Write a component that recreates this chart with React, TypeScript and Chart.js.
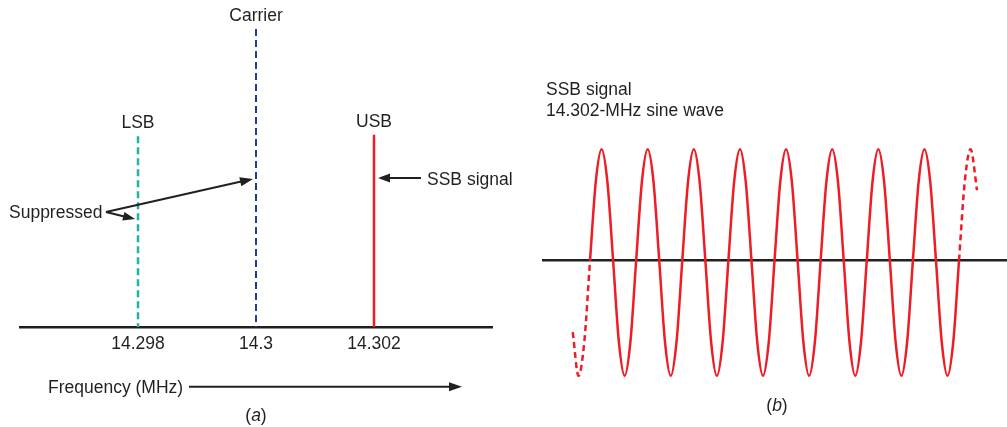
import React, { useEffect, useRef } from "react";
import { Chart, registerables } from "chart.js";

Chart.register(...registerables);

const FONT = '"Liberation Sans", Arial, Helvetica, sans-serif';
const INK = "#231f20";
const FS = 17.5;

// ---------- Panel (a): spectrum ----------
const freqTicks = [14.298, 14.3, 14.302];
const freqTickLabels = ["14.298", "14.3", "14.302"];
const freqMin = 14.296;
const freqMax = 14.304;
const componentNames = ["LSB", "Carrier", "USB"];
const componentFreqs = [14.298, 14.3, 14.302];
const componentHeights = [0.64, 1.0, 0.645];
const componentSuppressed = [true, true, false];
const componentColors = ["#1db5a3", "#1f3b98", "#ee1c25"];
const componentWidths = [2.5, 2, 2.5];

// ---------- Panel (b): SSB waveform (time in cycles of the 14.302-MHz wave) ----------
const waveCycles = [
  -0.375, -0.25, -0.125,
  0, 0.125, 0.25, 0.375, 0.5, 0.625, 0.75, 0.875,
  1, 1.125, 1.25, 1.375, 1.5, 1.625, 1.75, 1.875,
  2, 2.125, 2.25, 2.375, 2.5, 2.625, 2.75, 2.875,
  3, 3.125, 3.25, 3.375, 3.5, 3.625, 3.75, 3.875,
  4, 4.125, 4.25, 4.375, 4.5, 4.625, 4.75, 4.875,
  5, 5.125, 5.25, 5.375, 5.5, 5.625, 5.75, 5.875,
  6, 6.125, 6.25, 6.375, 6.5, 6.625, 6.75, 6.875,
  7, 7.125, 7.25, 7.375, 7.5, 7.625, 7.75, 7.875,
  8, 8.125, 8.25, 8.39,
];
const waveAmp = [
  -0.646, -1.04, -0.735,
  0, 0.71, 1, 0.71, 0, -0.735, -1.04, -0.735,
  0, 0.71, 1, 0.71, 0, -0.735, -1.04, -0.735,
  0, 0.71, 1, 0.71, 0, -0.735, -1.04, -0.735,
  0, 0.71, 1, 0.71, 0, -0.735, -1.04, -0.735,
  0, 0.71, 1, 0.71, 0, -0.735, -1.04, -0.735,
  0, 0.71, 1, 0.71, 0, -0.735, -1.04, -0.735,
  0, 0.71, 1, 0.71, 0, -0.735, -1.04, -0.735,
  0, 0.71, 1, 0.71, 0, -0.735, -1.04, -0.735,
  0, 0.71, 1, 0.63,
];
const solidSpan = [0, 8];

function font(style = "") {
  return `${style ? style + " " : ""}${FS}px ${FONT}`;
}

function arrow(
  ctx: CanvasRenderingContext2D,
  x1: number,
  y1: number,
  x2: number,
  y2: number,
  len = 12,
  half = 4.5
) {
  const a = Math.atan2(y2 - y1, x2 - x1);
  const bx = x2 - len * Math.cos(a);
  const by = y2 - len * Math.sin(a);
  ctx.beginPath();
  ctx.moveTo(x1, y1);
  ctx.lineTo(bx + 2 * Math.cos(a), by + 2 * Math.sin(a));
  ctx.stroke();
  ctx.beginPath();
  ctx.moveTo(x2, y2);
  ctx.lineTo(bx - half * Math.sin(a), by + half * Math.cos(a));
  ctx.lineTo(bx + half * Math.sin(a), by - half * Math.cos(a));
  ctx.closePath();
  ctx.fill();
}

function caption(ctx: CanvasRenderingContext2D, letter: string, cx: number, baseline: number) {
  ctx.font = font();
  const wl = ctx.measureText("(").width;
  const wr = ctx.measureText(")").width;
  ctx.font = font("italic");
  const wm = ctx.measureText(letter).width;
  let x = cx - (wl + wm + wr) / 2;
  ctx.textAlign = "left";
  ctx.font = font();
  ctx.fillText("(", x, baseline);
  x += wl;
  ctx.font = font("italic");
  ctx.fillText(letter, x, baseline);
  x += wm;
  ctx.font = font();
  ctx.fillText(")", x, baseline);
}

const spectrumNotes = {
  id: "spectrumNotes",
  afterDatasetsDraw(chart: any) {
    const ctx: CanvasRenderingContext2D = chart.ctx;
    const xs = chart.scales.x;
    const ys = chart.scales.y;
    ctx.save();
    ctx.fillStyle = INK;
    ctx.strokeStyle = INK;
    ctx.lineWidth = 2;
    ctx.font = font();
    ctx.textBaseline = "alphabetic";
    ctx.textAlign = "center";
    componentNames.forEach((name, i) => {
      const px = xs.getPixelForValue(componentFreqs[i]);
      const top = ys.getPixelForValue(componentHeights[i]);
      ctx.fillText(name, px, top - 8);
    });
    const lsbX = xs.getPixelForValue(componentFreqs[0]);
    const carX = xs.getPixelForValue(componentFreqs[1]);
    const usbX = xs.getPixelForValue(componentFreqs[2]);
    // SSB signal arrow
    const sy = ys.getPixelForValue(0.5);
    arrow(ctx, usbX + 47, sy, usbX + 4, sy, 12, 4.5);
    ctx.textAlign = "left";
    ctx.fillText("SSB signal", usbX + 53, sy + 6.5);
    // Suppressed
    const oy = ys.getPixelForValue(0.386);
    ctx.fillText("Suppressed", 9, oy + 6.3);
    arrow(ctx, 106, oy, carX - 3, ys.getPixelForValue(0.497), 13, 4.5);
    arrow(ctx, 106, oy, lsbX - 3, ys.getPixelForValue(0.362), 12, 4.5);
    // Frequency axis arrow
    ctx.fillText("Frequency (MHz)", 48, 393.3);
    arrow(ctx, 189, 386.7, 462, 386.7, 13, 4.5);
    caption(ctx, "a", carX, 421);
    ctx.restore();
  },
};

const waveNotes = {
  id: "waveNotes",
  afterDatasetsDraw(chart: any) {
    const ctx: CanvasRenderingContext2D = chart.ctx;
    ctx.save();
    ctx.fillStyle = INK;
    ctx.font = font();
    ctx.textBaseline = "alphabetic";
    ctx.textAlign = "left";
    ctx.fillText("SSB signal", 16, 94.5);
    ctx.fillText("14.302-MHz sine wave", 16, 116);
    caption(ctx, "b", 247, 411);
    ctx.restore();
  },
};

function configA(): any {
  return {
    type: "line",
    data: {
      datasets: componentNames.map((name, i) => ({
        label: name,
        data: [
          { x: componentFreqs[i], y: componentHeights[i] },
          { x: componentFreqs[i], y: 0 },
        ],
        borderColor: componentColors[i],
        borderWidth: componentWidths[i],
        borderDash: componentSuppressed[i] ? [7, 4] : [],
        pointRadius: 0,
        clip: false,
        fill: false,
      })),
    },
    options: {
      animation: false,
      responsive: false,
      devicePixelRatio: 1,
      layout: { padding: { left: 20, right: 38, top: 29, bottom: 0 } },
      plugins: { legend: { display: false }, tooltip: { enabled: false } },
      scales: {
        x: {
          type: "linear",
          min: freqMin,
          max: freqMax,
          afterBuildTicks: (s: any) => {
            s.ticks = freqTicks.map((v) => ({ value: v }));
          },
          afterFit: (s: any) => {
            s.height = 100;
          },
          ticks: {
            callback: (_v: any, i: number) => freqTickLabels[i],
            font: { family: FONT, size: FS },
            color: INK,
            padding: 7,
            maxRotation: 0,
            autoSkip: false,
          },
          grid: { display: false, drawTicks: false },
          border: { display: true, color: INK, width: 2.5 },
        },
        y: { display: false, min: 0, max: 1 },
      },
    },
    plugins: [spectrumNotes],
  };
}

function configB(): any {
  return {
    type: "line",
    data: {
      datasets: [
        {
          label: "SSB signal",
          data: waveCycles.map((c, i) => ({ x: c, y: waveAmp[i] })),
          borderColor: "#ee1c25",
          borderWidth: 2.5,
          pointRadius: 0,
          cubicInterpolationMode: "monotone",
          clip: false,
          fill: false,
          segment: {
            borderDash: (ctx: any) =>
              ctx.p0.parsed.x < solidSpan[0] || ctx.p1.parsed.x > solidSpan[1] ? [6, 4] : [],
          },
        },
      ],
    },
    options: {
      animation: false,
      responsive: false,
      devicePixelRatio: 1,
      layout: { padding: { left: 13, right: 0, top: 38, bottom: 0 } },
      plugins: { legend: { display: false }, tooltip: { enabled: false } },
      scales: {
        x: {
          type: "linear",
          min: -1.02,
          max: 9.04,
          position: { y: 0 },
          ticks: { display: false },
          grid: { display: false, drawTicks: false },
          border: { display: true, color: INK, width: 2.5 },
        },
        y: { display: false, min: -1.5, max: 2 },
      },
    },
    plugins: [waveNotes],
  };
}

export default function App() {
  const aRef = useRef<HTMLCanvasElement>(null);
  const bRef = useRef<HTMLCanvasElement>(null);
  useEffect(() => {
    const a = new Chart(aRef.current!, configA());
    const b = new Chart(bRef.current!, configB());
    return () => {
      a.destroy();
      b.destroy();
    };
  }, []);
  return (
    <div
      style={{
        position: "fixed",
        left: 0,
        top: 0,
        width: 1007,
        height: 427,
        background: "#fff",
        overflow: "hidden",
      }}
    >
      <canvas
        ref={aRef}
        width={530}
        height={427}
        style={{ position: "absolute", left: 0, top: 0, width: 530, height: 427 }}
      />
      <canvas
        ref={bRef}
        width={477}
        height={427}
        style={{ position: "absolute", left: 530, top: 0, width: 477, height: 427 }}
      />
    </div>
  );
}
